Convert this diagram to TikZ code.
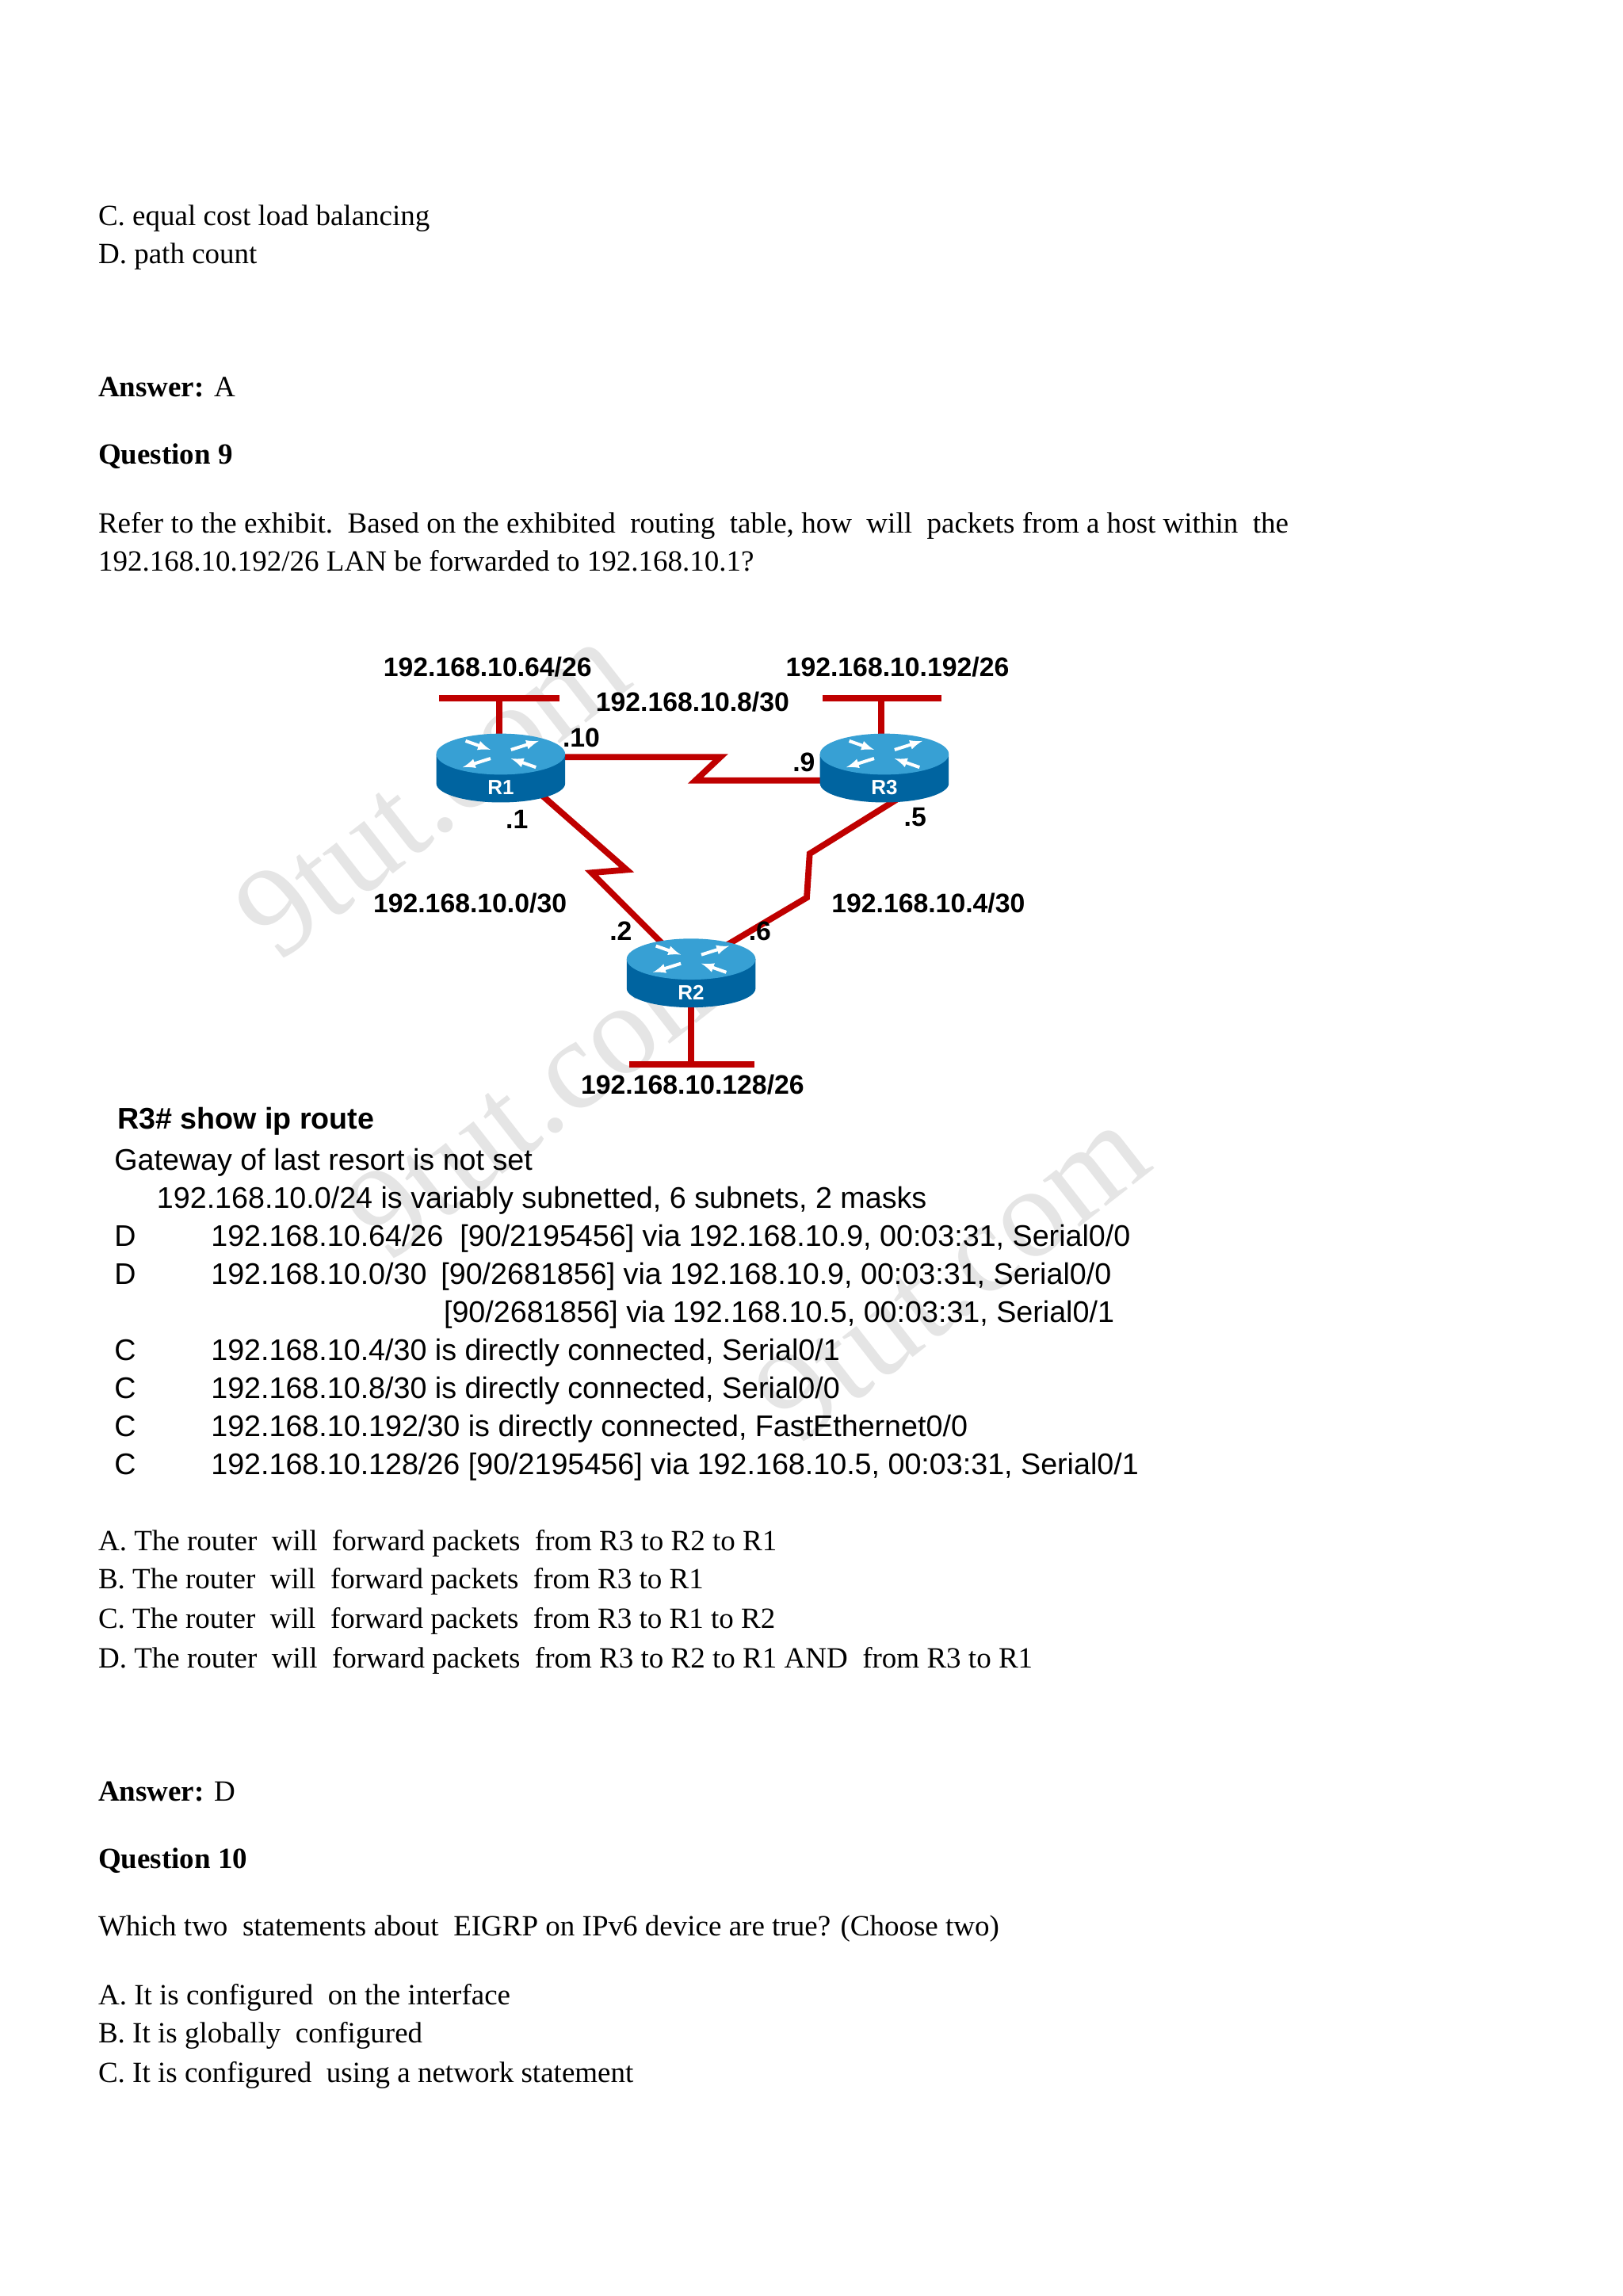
\documentclass[tikz,border=0pt]{standalone}
\usepackage{fontspec}
\setmainfont{Liberation Serif}
\setsansfont{Liberation Sans}
\begin{document}
\begin{tikzpicture}[x=0.5mm,y=-0.5mm,
  txt/.style={anchor=base west,inner sep=0pt,font=\fontsize{28.5}{32}\selectfont},
  tbl/.style={anchor=base west,inner sep=0pt,font=\sffamily\fontsize{29}{32}\selectfont},
  lbl/.style={anchor=base,inner sep=0pt,font=\sffamily\bfseries\fontsize{26}{30}\selectfont},
  wire/.style={draw=red!75!black,line width=2.1mm,line join=miter},
  wm/.style={text=black!10,font=\fontsize{125}{125}\selectfont,rotate=38}]
\useasboundingbox (0,0) rectangle (1108,1568);
\fill[white] (0,0) rectangle (1108,1568);
\definecolor{rtop}{RGB}{55,160,212}
\definecolor{rbody}{RGB}{0,100,160}
% watermarks
\node[wm] (w1) at (295,540) {9tut.com};
\node[wm] (w2) at (370,745) {9tut.com};
\node[wm] (w3) at (650,870) {9tut.com};
% text top
\node[txt] (t1) at (67,154) {C. equal cost load balancing};
\node[txt] (t2) at (67,180) {D. path count};
\node[txt] (t3) at (67,271) {\textbf{Answer:} A};
\node[txt] (t4) at (67,317) {\textbf{Question 9}};
\node[txt] (t5) at (67,364) {Refer to the exhibit.\ \ Based on the exhibited\ \ routing\ \ table, how\ \ will\ \ packets from a host within\ \ the};
\node[txt] (t6) at (67,390) {192.168.10.192/26 LAN be forwarded to 192.168.10.1?};
% coordinates
\coordinate (r1) at (342,515);
\coordinate (r3) at (604,515);
\coordinate (r2) at (472,655);
% LAN stems
\draw[wire] (300,477) -- (382,477);
\draw[wire] (341,477) -- (341,505);
\draw[wire] (562,477) -- (643,477);
\draw[wire] (602,477) -- (602,505);
\draw[wire] (430,727) -- (515,727);
\draw[wire] (472,727) -- (472,680);
% serial links
\draw[wire] (380,517) -- (492,517) -- (475,533) -- (570,533);
\draw[wire] (370,543) -- (428,594) -- (404,596) -- (458,650);
\draw[wire] (614,545) -- (553,583) -- (551,613) -- (492,648);
% routers
\foreach \n/\c in {R1/r1,R3/r3,R2/r2}{
  \begin{scope}[shift={(\c)}]
    \fill[rbody] (-44,0) -- (-44,20) arc[start angle=180,end angle=0,x radius=44,y radius=13] -- (44,0) -- cycle;
    \fill[rtop] (0,0) ellipse[x radius=44,y radius=14];
    \draw[white,line width=1.1mm,-latex] (-24,-9) -- (-7,-3);
    \draw[white,line width=1.1mm,-latex] (24,9) -- (7,3);
    \draw[white,line width=1.1mm,-latex] (-7,3) -- (-26,9);
    \draw[white,line width=1.1mm,-latex] (7,-3) -- (26,-9);
    \node[font=\sffamily\bfseries\fontsize{20}{22}\selectfont,text=white] (\n) at (0,23) {\n};
  \end{scope}}
% labels
\node[lbl] (l1) at (333,462) {192.168.10.64/26};
\node[lbl] (l2) at (613,462) {192.168.10.192/26};
\node[lbl] (l3) at (473,486) {192.168.10.8/30};
\node[lbl] (l4) at (321,623) {192.168.10.0/30};
\node[lbl] (l5) at (634,623) {192.168.10.4/30};
\node[lbl] (l6) at (473,747) {192.168.10.128/26};
\node[lbl] (d10) at (397,510) {.10};
\node[lbl] (d9) at (549,527) {.9};
\node[lbl] (d1) at (353,566) {.1};
\node[lbl] (d5) at (625,564) {.5};
\node[lbl] (d2) at (424,642) {.2};
\node[lbl] (d6) at (519,642) {.6};
% table
\node[tbl,font=\sffamily\bfseries\fontsize{29}{32}\selectfont] (h1) at (80,771) {R3\# show ip route};
\node[tbl] (h2) at (78,799) {Gateway of last resort is not set};
\node[tbl] (h3) at (107,825) {192.168.10.0/24 is variably subnetted, 6 subnets, 2 masks};
\foreach \y/\l/\t in {851/D/{192.168.10.64/26},877/D/{192.168.10.0/30},929/C/{192.168.10.4/30 is directly connected, Serial0/1},955/C/{192.168.10.8/30 is directly connected, Serial0/0},981/C/{192.168.10.192/30 is directly connected, FastEthernet0/0}}{
  \node[tbl] at (78,\y) {\l};
  \node[tbl] at (144,\y) {\t};}
\node[tbl] (b1) at (314,851) {[90/2195456] via 192.168.10.9, 00:03:31, Serial0/0};
\node[tbl] (b2) at (301,877) {[90/2681856] via 192.168.10.9, 00:03:31, Serial0/0};
\node[tbl] (b3) at (303,903) {[90/2681856] via 192.168.10.5, 00:03:31, Serial0/1};
\node[tbl] (c7) at (78,1007) {C};
\node[tbl] (b4) at (144,1007) {192.168.10.128/26 [90/2195456] via 192.168.10.5, 00:03:31, Serial0/1};
% bottom text
\node[txt] (a1) at (67,1059) {A. The router\ \ will\ \ forward packets\ \ from R3 to R2 to R1};
\node[txt] (a2) at (67,1085) {B. The router\ \ will\ \ forward packets\ \ from R3 to R1};
\node[txt] (a3) at (67,1112) {C. The router\ \ will\ \ forward packets\ \ from R3 to R1 to R2};
\node[txt] (a4) at (67,1139) {D. The router\ \ will\ \ forward packets\ \ from R3 to R2 to R1 AND\ \ from R3 to R1};
\node[txt] (a5) at (67,1230) {\textbf{Answer:} D};
\node[txt] (a6) at (67,1276) {\textbf{Question 10}};
\node[txt] (a7) at (67,1322) {Which two\ \ statements about\ \ EIGRP on IPv6 device are true? (Choose two)};
\node[txt] (a8) at (67,1369) {A. It is configured\ \ on the interface};
\node[txt] (a9) at (67,1395) {B. It is globally\ \ configured};
\node[txt] (a10) at (67,1422) {C. It is configured\ \ using a network statement};
\end{tikzpicture}
\end{document}
